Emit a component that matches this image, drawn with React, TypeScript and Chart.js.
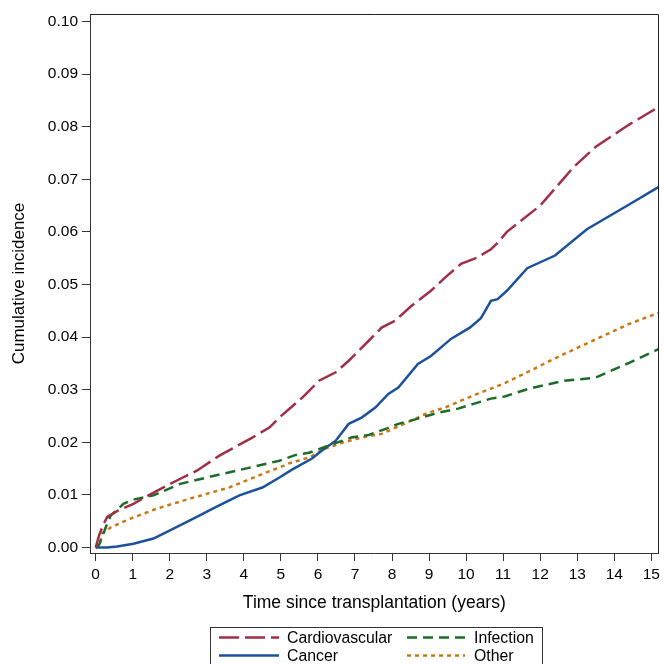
import { useEffect, useRef } from "react";
import { Chart, registerables } from "chart.js";

Chart.register(...registerables);

// ---- Data ----
const cardioYears = [0, 0.1, 0.22, 0.31, 0.6, 1.02, 1.5, 2.1, 2.73, 3.35, 4.23, 4.69, 4.96, 5.3, 5.58, 6.03, 6.48, 6.83, 7.37, 7.72, 8.08, 8.52, 9.05, 9.43, 9.86, 10.3, 10.67, 10.85, 11.1, 12.0, 12.9, 13.5, 14.4, 15.19];
const cardioValues = [0, 0.0025, 0.0045, 0.0058, 0.007, 0.0083, 0.0102, 0.0124, 0.0146, 0.0175, 0.0209, 0.0228, 0.0247, 0.0268, 0.0285, 0.0317, 0.0333, 0.0355, 0.0393, 0.0418, 0.0431, 0.0459, 0.0488, 0.0513, 0.0539, 0.0551, 0.0567, 0.0579, 0.06, 0.065, 0.0723, 0.0762, 0.0804, 0.0837];

const cancerYears = [0, 0.3, 0.58, 1.02, 1.56, 2.1, 2.73, 3.16, 3.88, 4.5, 4.96, 5.3, 5.84, 6.1, 6.48, 6.83, 7.18, 7.55, 7.9, 8.17, 8.7, 9.05, 9.6, 10.1, 10.4, 10.67, 10.85, 11.1, 11.65, 12.4, 13.26, 14.4, 15.19];
const cancerValues = [0, 0, 0.0002, 0.0007, 0.0017, 0.0036, 0.0058, 0.0074, 0.0099, 0.0114, 0.0133, 0.0148, 0.0169, 0.0184, 0.0203, 0.0235, 0.0247, 0.0266, 0.0292, 0.0304, 0.0349, 0.0364, 0.0397, 0.0418, 0.0436, 0.0469, 0.0472, 0.0488, 0.0531, 0.0555, 0.0605, 0.0652, 0.0685];

const infectionYears = [0, 0.1, 0.27, 0.4, 0.75, 1.02, 1.56, 2.28, 3.0, 3.8, 4.96, 5.4, 5.76, 6.3, 6.9, 7.37, 7.85, 8.17, 8.7, 9.24, 9.78, 10.2, 10.67, 11.04, 11.7, 12.65, 13.5, 14.4, 15.19];
const infectionValues = [0, 0.0006, 0.0038, 0.006, 0.0083, 0.0091, 0.0099, 0.0121, 0.0133, 0.0146, 0.0165, 0.0176, 0.018, 0.0194, 0.0209, 0.0214, 0.0226, 0.0235, 0.0245, 0.0256, 0.0264, 0.0273, 0.0283, 0.0287, 0.0302, 0.0317, 0.0323, 0.0351, 0.0377];

const otherYears = [0, 0.1, 0.18, 0.4, 0.94, 1.66, 2.55, 3.6, 4.69, 4.96, 5.22, 5.76, 6.2, 6.65, 7.18, 7.72, 8.52, 8.97, 9.43, 9.86, 10.3, 10.67, 11.06, 12.65, 14.4, 15.19];
const otherValues = [0, 0.0003, 0.0027, 0.0038, 0.0055, 0.0074, 0.0093, 0.0114, 0.0145, 0.0152, 0.016, 0.0171, 0.0188, 0.0199, 0.0209, 0.0216, 0.0241, 0.0256, 0.0266, 0.0279, 0.0292, 0.0302, 0.0313, 0.0368, 0.0425, 0.0446];

const seriesNames = ["Cardiovascular", "Infection", "Cancer", "Other"];
const xTickValues = [0, 1, 2, 3, 4, 5, 6, 7, 8, 9, 10, 11, 12, 13, 14, 15];
const yTickValues = [0, 0.01, 0.02, 0.03, 0.04, 0.05, 0.06, 0.07, 0.08, 0.09, 0.1];
const xTitle = "Time since transplantation (years)";
const yTitle = "Cumulative incidence";

const FONT = "'Liberation Sans', Arial, Helvetica, sans-serif";

const toPoints = (xs: number[], ys: number[]) => xs.map((x, i) => ({ x, y: ys[i] }));

const frameAndLegend = {
  id: "frameAndLegend",
  afterDraw(chart: any) {
    const { ctx, chartArea: a } = chart;
    ctx.save();
    ctx.strokeStyle = "#222";
    ctx.lineWidth = 1;
    ctx.beginPath();
    ctx.moveTo(Math.round(a.left), Math.round(a.top) + 0.5);
    ctx.lineTo(Math.round(a.right) - 0.5, Math.round(a.top) + 0.5);
    ctx.lineTo(Math.round(a.right) - 0.5, Math.round(a.bottom));
    ctx.stroke();

    // legend box
    ctx.strokeStyle = "#333";
    ctx.strokeRect(210.5, 627.5, 332, 50);
    const colSample = [[219, 279], [407, 465]];
    const colText = [287, 474];
    const rowY = [637.5, 655.5];
    ctx.font = `15.8px ${FONT}`;
    ctx.textBaseline = "middle";
    ctx.textAlign = "left";
    chart.data.datasets.forEach((ds: any, i: number) => {
      const col = i % 2;
      const row = Math.floor(i / 2);
      ctx.save();
      ctx.strokeStyle = ds.borderColor;
      ctx.lineWidth = ds.borderWidth;
      ctx.setLineDash(ds.borderDash || []);
      ctx.beginPath();
      ctx.moveTo(colSample[col][0], rowY[row]);
      ctx.lineTo(colSample[col][1], rowY[row]);
      ctx.stroke();
      ctx.restore();
      ctx.fillStyle = "#000";
      ctx.fillText(ds.label, colText[col], rowY[row] + 1);
    });
    ctx.restore();
  },
};

export default function App() {
  const ref = useRef<HTMLCanvasElement | null>(null);
  useEffect(() => {
    document.body.style.margin = "0";
    const canvas = ref.current!;
    const chart = new Chart(canvas, {
      type: "line",
      data: {
        datasets: [
          {
            label: seriesNames[0],
            data: toPoints(cardioYears, cardioValues),
            borderColor: "#A0304A",
            borderWidth: 2.5,
            borderDash: [20, 6],
            pointRadius: 0,
            tension: 0,
          },
          {
            label: seriesNames[1],
            data: toPoints(infectionYears, infectionValues),
            borderColor: "#1D6B28",
            borderWidth: 2.5,
            borderDash: [10, 6],
            pointRadius: 0,
            tension: 0,
          },
          {
            label: seriesNames[2],
            data: toPoints(cancerYears, cancerValues),
            borderColor: "#1C519C",
            borderWidth: 2.5,
            borderDash: [],
            pointRadius: 0,
            tension: 0,
          },
          {
            label: seriesNames[3],
            data: toPoints(otherYears, otherValues),
            borderColor: "#C97814",
            borderWidth: 2.5,
            borderDash: [4, 4],
            pointRadius: 0,
            tension: 0,
          },
        ],
      },
      options: {
        animation: false,
        responsive: false,
        maintainAspectRatio: false,
        layout: { padding: { top: 14, right: 3, left: 0, bottom: 0 } },
        plugins: { legend: { display: false }, tooltip: { enabled: false } },
        scales: {
          x: {
            type: "linear",
            min: -0.153,
            max: 15.196,
            afterFit: (s: any) => { s.height = 111; },
            afterBuildTicks: (s: any) => { s.ticks = xTickValues.map((v) => ({ value: v })); },
            ticks: {
              color: "#000",
              font: { family: FONT, size: 15.5 },
              padding: 4,
              maxRotation: 0,
              callback: (v: any) => String(v),
            },
            grid: { drawOnChartArea: false, drawTicks: true, tickLength: 8, color: "#333" },
            border: { display: true, color: "#333", width: 1 },
            title: {
              display: true,
              text: xTitle,
              color: "#000",
              font: { family: FONT, size: 17.5 },
              padding: { top: 0, bottom: 50 },
            },
          },
          y: {
            type: "linear",
            min: -0.00105,
            max: 0.10142,
            afterFit: (s: any) => { s.width = 90; },
            afterBuildTicks: (s: any) => { s.ticks = yTickValues.map((v) => ({ value: v })); },
            ticks: {
              color: "#000",
              font: { family: FONT, size: 15.5 },
              padding: 4,
              callback: (v: any) => Number(v).toFixed(2),
            },
            grid: { drawOnChartArea: false, drawTicks: true, tickLength: 8, color: "#333" },
            border: { display: true, color: "#333", width: 1 },
            title: {
              display: true,
              text: yTitle,
              color: "#000",
              font: { family: FONT, size: 17 },
              padding: { top: 9, bottom: 0 },
            },
          },
        },
      },
      plugins: [frameAndLegend],
    });
    return () => chart.destroy();
  }, []);
  return <canvas ref={ref} width={664} height={664} style={{ display: "block", width: 664, height: 664 }} />;
}
